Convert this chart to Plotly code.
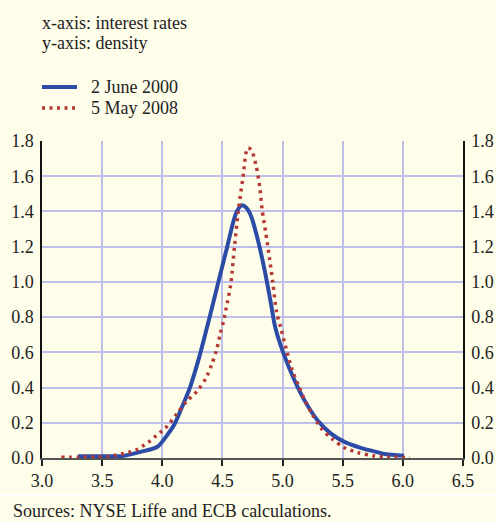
import plotly.graph_objects as go

# 2 June 2000
x_2000 = [3.30, 3.50, 3.68, 3.82, 3.96, 4.03, 4.10, 4.17, 4.23, 4.31, 4.39, 4.47, 4.54, 4.59, 4.62, 4.66,
          4.70, 4.74, 4.79, 4.85, 4.90, 4.94, 5.01, 5.10, 5.18, 5.29, 5.40, 5.51, 5.65, 5.73, 5.85, 6.01]
y_2000 = [0.010, 0.010, 0.012, 0.035, 0.064, 0.12, 0.19, 0.30, 0.40, 0.58, 0.79, 1.01, 1.20, 1.34, 1.40, 1.435,
          1.42, 1.37, 1.25, 1.07, 0.89, 0.74, 0.59, 0.44, 0.33, 0.215, 0.14, 0.093, 0.058, 0.043, 0.023, 0.013]

# 5 May 2008
x_2008 = [3.16, 3.30, 3.45, 3.55, 3.62, 3.68, 3.74, 3.80, 3.85, 3.90, 3.95, 4.00, 4.04, 4.12, 4.20,
          4.29, 4.36, 4.41, 4.45, 4.48, 4.51, 4.54, 4.57, 4.60, 4.63, 4.67, 4.71, 4.74, 4.78,
          4.81, 4.83, 4.86, 4.89, 4.92, 4.95, 4.985, 5.03, 5.08, 5.14, 5.19, 5.25, 5.32, 5.41,
          5.51, 5.63, 5.75, 5.88, 6.06]
y_2008 = [0.004, 0.005, 0.006, 0.008, 0.017, 0.026, 0.036, 0.051, 0.074, 0.097, 0.127, 0.155, 0.18, 0.25, 0.32,
          0.38, 0.45, 0.53, 0.61, 0.70, 0.78, 0.88, 0.99, 1.20, 1.39, 1.59, 1.76, 1.75, 1.66,
          1.54, 1.41, 1.28, 1.14, 0.99, 0.83, 0.74, 0.62, 0.50, 0.40, 0.32, 0.244, 0.17, 0.11,
          0.06, 0.03, 0.013, 0.005, 0.003]

x_ticks = [3.0, 3.5, 4.0, 4.5, 5.0, 5.5, 6.0, 6.5]
y_ticks = [0.0, 0.2, 0.4, 0.6, 0.8, 1.0, 1.2, 1.4, 1.6, 1.8]
series_names = ["2 June 2000", "5 May 2008"]

BG = "#FEFDE9"
GRID = "#BCC0E8"
FONT = "Liberation Serif"
BLUE = "#2C4BA6"
RED = "#B53A35"
FS = 18
RED_DASH = "3px,4.5px"

# plot area in pixels: left 42, right 463, top 141, bottom 458
PL, PR, PT, PB = 42, 463, 141, 458
def px(v):
    return (v - PL) / (PR - PL)
def py(v):
    return (PB - v) / (PB - PT)

fig = go.Figure()
fig.add_trace(go.Scatter(x=x_2000, y=y_2000, mode="lines", name=series_names[0], showlegend=False,
                         line=dict(color=BLUE, width=4, shape="spline", smoothing=0.8)))
fig.add_trace(go.Scatter(x=x_2008, y=y_2008, mode="lines", name=series_names[1], showlegend=False,
                         line=dict(color=RED, width=3.5, shape="spline", smoothing=0.8,
                                   dash=RED_DASH)))
fig.add_trace(go.Scatter(x=[x_ticks[0]], y=[y_ticks[0]], yaxis="y2", mode="lines",
                         showlegend=False, hoverinfo="skip", line=dict(width=0)))

fig.update_layout(
    width=496, height=522,
    margin=dict(l=PL, r=496 - PR, t=PT, b=522 - PB, autoexpand=False),
    paper_bgcolor=BG, plot_bgcolor=BG,
    font=dict(family=FONT, size=FS, color="#222222"),
    xaxis=dict(range=[3.0, 6.5], tickvals=x_ticks, ticktext=[f"{v:.1f}" for v in x_ticks],
               automargin=False,
               showgrid=True, gridcolor=GRID, gridwidth=1.5, zeroline=False,
               showline=True, linecolor="#555555", linewidth=1.5,
               ticks="outside", ticklen=6, tickcolor="#222222", tickwidth=1.5),
    yaxis=dict(range=[0, 1.8], tickvals=y_ticks, ticktext=[f"{v:.1f}" for v in y_ticks],
               automargin=False, ticklabelstandoff=3,
               showgrid=True, gridcolor=GRID, gridwidth=1.5, zeroline=False,
               showline=True, linecolor="#111111", linewidth=1.5, ticks=""),
    yaxis2=dict(range=[0, 1.8], tickvals=y_ticks, ticktext=[f"{v:.1f}" for v in y_ticks],
                automargin=False, ticklabelstandoff=3,
                overlaying="y", side="right", showgrid=False, zeroline=False,
                showline=True, linecolor="#111111", linewidth=1.5, ticks=""),
    showlegend=False,
)

# header texts
fig.add_annotation(text="x-axis: interest rates", xref="paper", yref="paper",
                   x=px(40), y=py(23), xanchor="left", yanchor="middle",
                   showarrow=False, font=dict(size=FS))
fig.add_annotation(text="y-axis: density", xref="paper", yref="paper",
                   x=px(40), y=py(43), xanchor="left", yanchor="middle",
                   showarrow=False, font=dict(size=FS))

# legend
legend_rows = [(87, BLUE, 4, "solid"), (108, RED, 3.5, RED_DASH)]
for name, (yy, col, w, dash) in zip(series_names, legend_rows):
    fig.add_shape(type="line", xref="paper", yref="paper", x0=px(42), x1=px(77),
                  y0=py(yy), y1=py(yy), line=dict(color=col, width=w, dash=dash))
    fig.add_annotation(text=name, xref="paper", yref="paper", x=px(89), y=py(yy),
                       xanchor="left", yanchor="middle", showarrow=False, font=dict(size=FS))

# footer
fig.add_annotation(text="Sources: NYSE Liffe and ECB calculations.", xref="paper", yref="paper",
                   x=px(11), y=py(511), xanchor="left", yanchor="middle",
                   showarrow=False, font=dict(size=FS))
fig.add_shape(type="line", xref="paper", yref="paper", x0=px(-5), x1=px(505),
              y0=py(495), y1=py(495), line=dict(color="#FFFFFF", width=3))

fig.write_html("out.html", config={"displayModeBar": False},
               post_script="document.body.style.margin='0px';")
